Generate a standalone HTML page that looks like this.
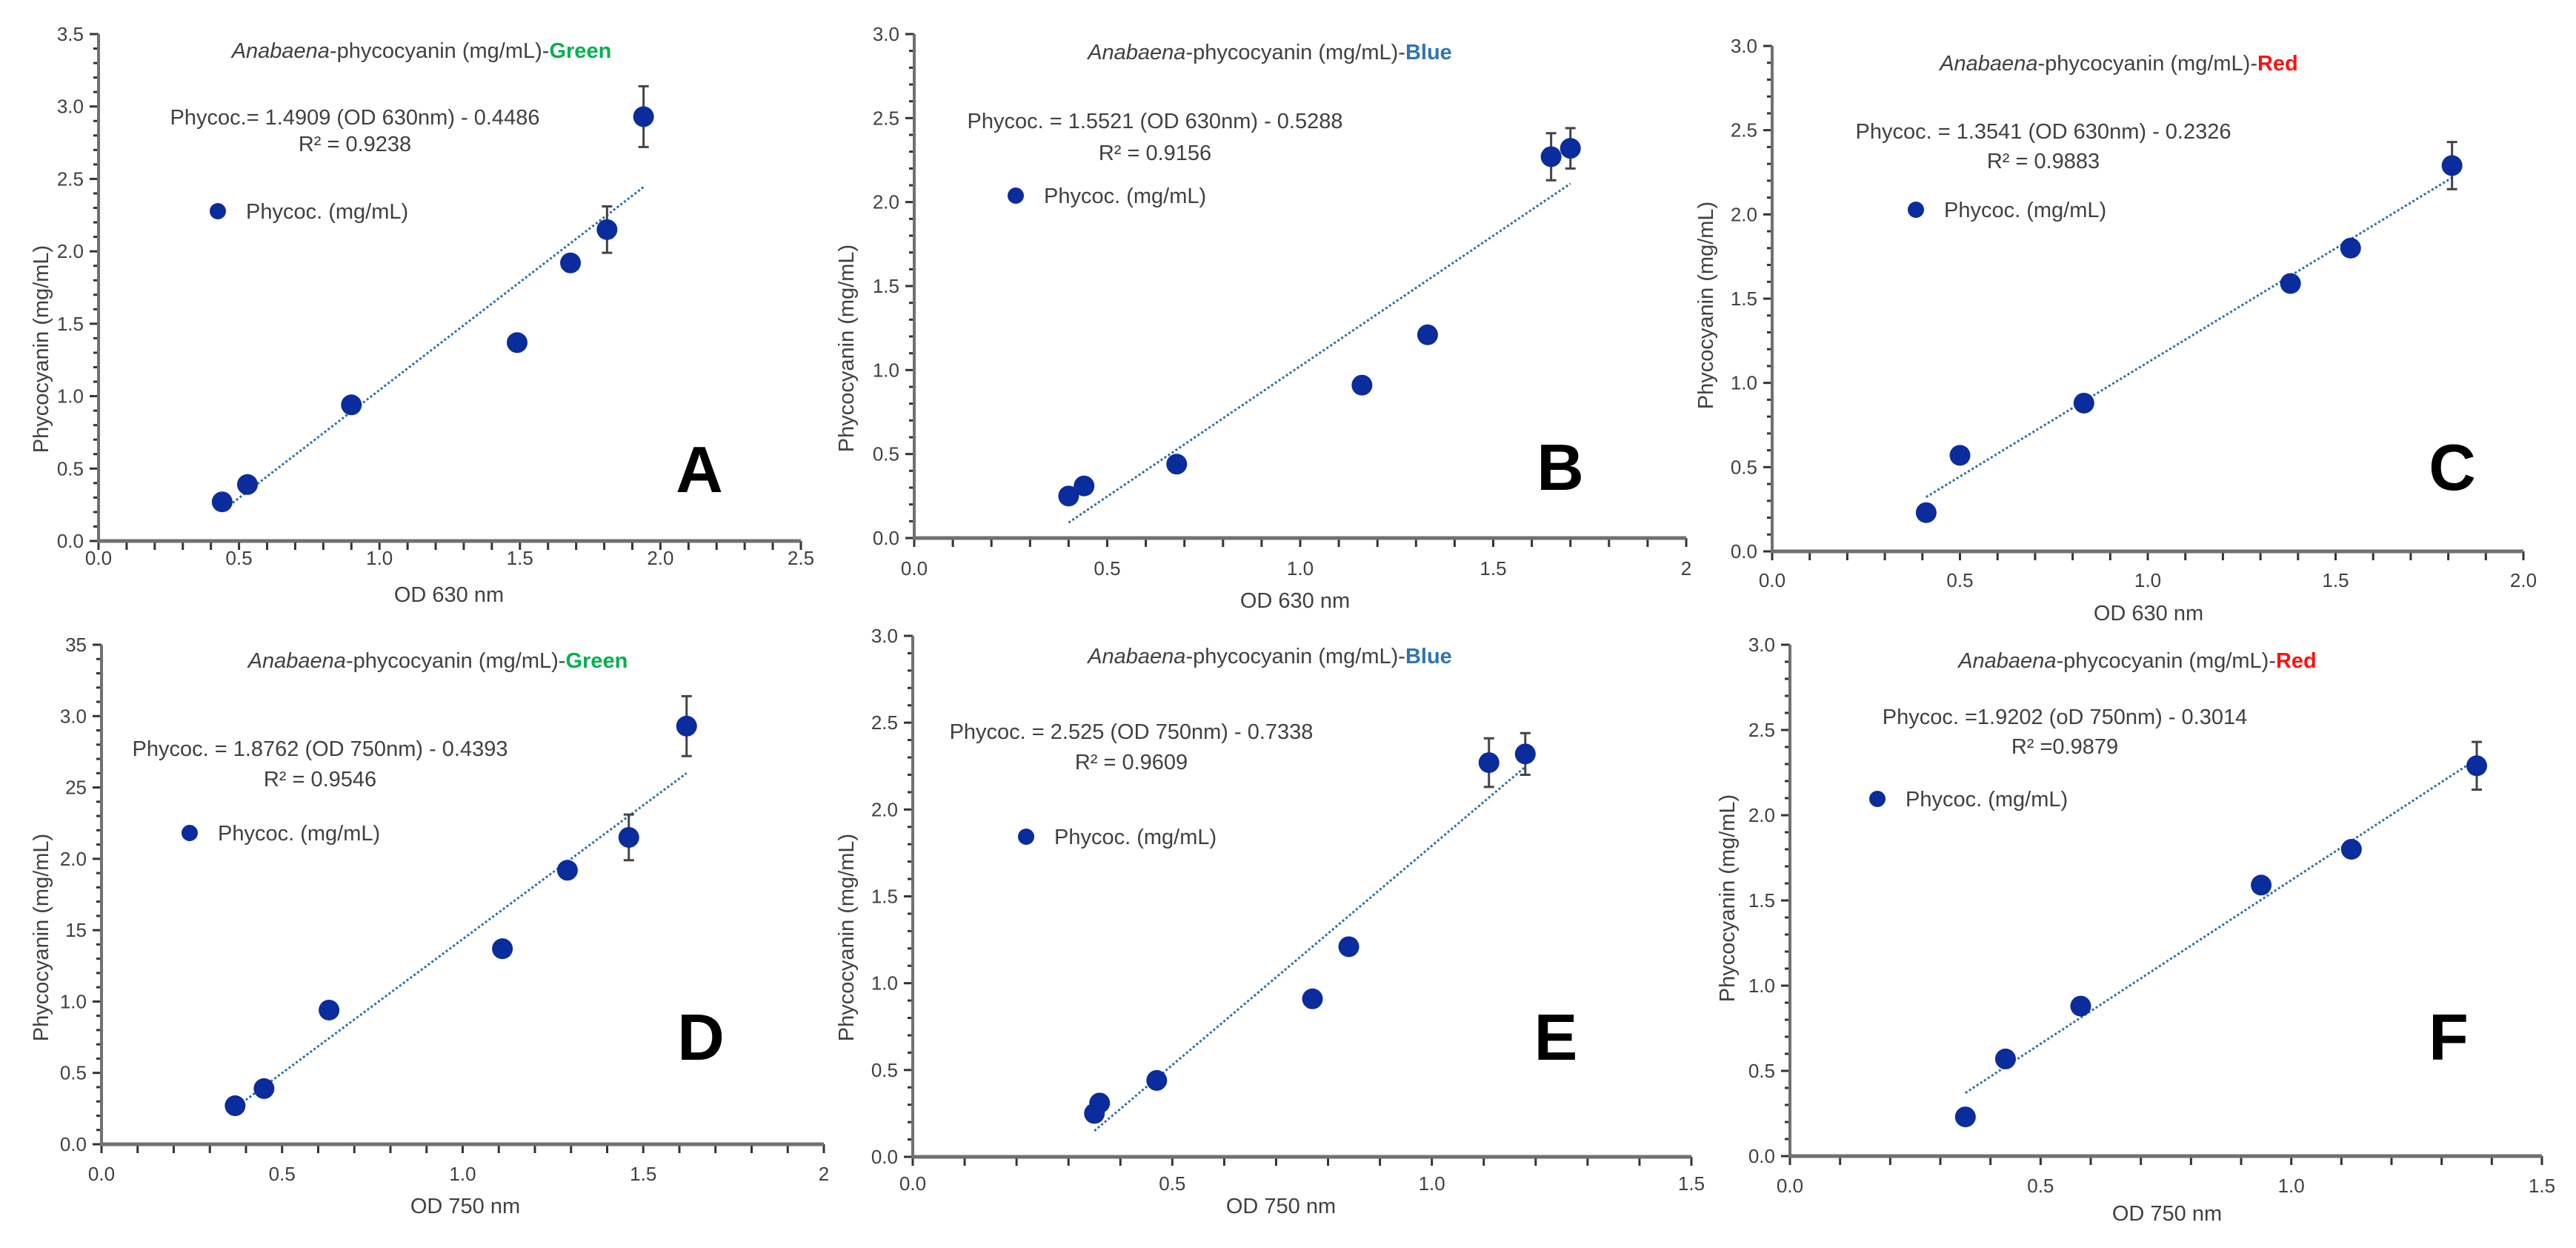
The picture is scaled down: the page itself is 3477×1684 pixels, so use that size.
<!DOCTYPE html>
<html><head><meta charset="utf-8"><style>
html,body{margin:0;padding:0;background:#fff;}
svg{display:block;}
text{font-family:"Liberation Sans",sans-serif;fill:#404040;}
</style></head><body>
<svg id="fig" width="3477" height="1684" viewBox="0 0 3477 1684" xmlns="http://www.w3.org/2000/svg"></svg>
<script>
// ---- data ----
const aX=[0.44,0.53,0.90,1.49,1.68,1.81,1.94];
const aY=[0.27,0.39,0.94,1.37,1.92,2.15,2.93];
const aErr=[0,0,0,0,0,0.16,0.21];
const bX=[0.40,0.44,0.68,1.16,1.33,1.65,1.70];
const bY=[0.25,0.31,0.44,0.91,1.21,2.27,2.32];
const bErr=[0,0,0,0,0,0.14,0.12];
const cX=[0.41,0.50,0.83,1.38,1.54,1.81];
const cY=[0.23,0.57,0.88,1.59,1.80,2.29];
const cErr=[0,0,0,0,0,0.14];
const dX=[0.37,0.45,0.63,1.11,1.29,1.46,1.62];
const dY=[0.27,0.39,0.94,1.37,1.92,2.15,2.93];
const dErr=[0,0,0,0,0,0.16,0.21];
const eX=[0.35,0.36,0.47,0.77,0.84,1.11,1.18];
const eY=[0.25,0.31,0.44,0.91,1.21,2.27,2.32];
const eErr=[0,0,0,0,0,0.14,0.12];
const fX=[0.35,0.43,0.58,0.94,1.12,1.37];
const fY=[0.23,0.57,0.88,1.59,1.80,2.29];
const fErr=[0,0,0,0,0,0.14];
const slopes=[1.4909,1.5521,1.3541,1.8762,2.525,1.9202];
const intercepts=[-0.4486,-0.5288,-0.2326,-0.4393,-0.7338,-0.3014];
const equations=["Phycoc.= 1.4909 (OD 630nm) - 0.4486","Phycoc. = 1.5521 (OD 630nm) - 0.5288","Phycoc. = 1.3541 (OD 630nm) - 0.2326","Phycoc. = 1.8762 (OD 750nm) - 0.4393","Phycoc. = 2.525 (OD 750nm) - 0.7338","Phycoc. =1.9202 (oD 750nm) - 0.3014"];
const r2Labels=["R² = 0.9238","R² = 0.9156","R² = 0.9883","R² = 0.9546","R² = 0.9609","R² =0.9879"];
const colorWords=["Green","Blue","Red","Green","Blue","Red"];
const xTitles=["OD 630 nm","OD 630 nm","OD 630 nm","OD 750 nm","OD 750 nm","OD 750 nm"];
const yTicks35=["0.0","0.5","1.0","1.5","2.0","2.5","3.0","3.5"];
const yTicks35D=["0.0","0.5","1.0","15","2.0","25","3.0","35"];
const yTicks30=["0.0","0.5","1.0","1.5","2.0","2.5","3.0"];
const xTicksA=["0.0","0.5","1.0","1.5","2.0","2.5"];
const xTicksB=["0.0","0.5","1.0","1.5","2"];
const xTicksC=["0.0","0.5","1.0","1.5","2.0"];
const xTicksD=["0.0","0.5","1.0","1.5","2"];
const xTicks15=["0.0","0.5","1.0","1.5"];
const letters=["A","B","C","D","E","F"];

// ---- layout (pixels) ----
const panels=[
 {id:"a",xs:aX,ys:aY,er:aErr,x0:133,x1:1081,y0:730,y1:46,xmax:2.5,ymax:3.5,xt:xTicksA,yt:yTicks35,ti:[569,68],eq:[479,158,194],lg:[294,285],let:[944,664],tly:753,xl:[606,802],yl:[55,471]},
 {id:"b",xs:bX,ys:bY,er:bErr,x0:1234,x1:2276,y0:726,y1:46,xmax:2,ymax:3,xt:xTicksB,yt:yTicks30,ti:[1714,70],eq:[1559,163,206],lg:[1371,264],let:[2106,661],tly:767,xl:[1748,810],yl:[1142,470]},
 {id:"c",xs:cX,ys:cY,er:cErr,x0:2392,x1:3406,y0:744,y1:62,xmax:2,ymax:3,xt:xTicksC,yt:yTicks30,ti:[2860,85],eq:[2758,177,217],lg:[2586,283],let:[3310,661],tly:783,xl:[2900,827],yl:[2302,412]},
 {id:"d",xs:dX,ys:dY,er:dErr,x0:137,x1:1112,y0:1544,y1:870,xmax:2,ymax:3.5,xt:xTicksD,yt:yTicks35D,ti:[591,891],eq:[432,1010,1051],lg:[256,1124],let:[946,1430],tly:1584,xl:[628,1627],yl:[55,1265]},
 {id:"e",xs:eX,ys:eY,er:eErr,x0:1232,x1:2283,y0:1561,y1:858,xmax:1.5,ymax:3,xt:xTicks15,yt:yTicks30,ti:[1714,885],eq:[1527,987,1028],lg:[1385,1129],let:[2100,1430],tly:1597,xl:[1729,1627],yl:[1142,1265]},
 {id:"f",xs:fX,ys:fY,er:fErr,x0:2416,x1:3431,y0:1560,y1:870,xmax:1.5,ymax:3,xt:xTicks15,yt:yTicks30,ti:[2885,891],eq:[2787,967,1007],lg:[2534,1078],let:[3305,1430],tly:1600,xl:[2925,1637],yl:[2331,1212]}
];
const wordColor={Green:"#00b050",Blue:"#2e75b6",Red:"#ff1010"};
const NS="http://www.w3.org/2000/svg";
const svg=document.getElementById('fig');
function mk(tag,attrs,parent,txt){const e=document.createElementNS(NS,tag);for(const k in attrs)e.setAttribute(k,attrs[k]);if(txt!==undefined)e.textContent=txt;(parent||svg).appendChild(e);return e;}

panels.forEach((p,i)=>{
  const g=mk('g',{});
  
  
  const sx=v=>p.x0+(v/p.xmax)*(p.x1-p.x0);
  const sy=v=>p.y0-(v/p.ymax)*(p.y0-p.y1);
  const ny=Math.round(p.ymax*10);
  for(let k=0;k<=ny;k++){const y=sy(k/10);const major=k%5===0;
    mk('line',{x1:p.x0-(major?12:7),x2:p.x0,y1:y,y2:y,stroke:'#333','stroke-width':3},g);}
  const nx=Math.round(p.xmax*10);
  for(let k=0;k<=nx;k++){const x=sx(k/10);
    mk('line',{x1:x,x2:x,y1:p.y0,y2:p.y0+12,stroke:'#333','stroke-width':3},g);}
  const ya=mk('line',{x1:p.x0,x2:p.x0,y1:p.y1,y2:p.y0,stroke:'#707070','stroke-width':4},g);
  
  
  const xa=mk('line',{x1:p.x0-2,x2:p.x1,y1:p.y0,y2:p.y0,stroke:'#707070','stroke-width':5},g);
  
  
  p.yt.forEach((lab,k)=>{const t=mk('text',{x:p.x0-20,y:sy(k*0.5)+9,'text-anchor':'end','font-size':26},g,lab);
    
    });
  p.xt.forEach((lab,k)=>{const t=mk('text',{x:sx(k*0.5),y:p.tly+9,'text-anchor':'middle','font-size':26},g,lab);
    
    });
  const xt=mk('text',{x:p.xl[0],y:p.xl[1]+10,'text-anchor':'middle','font-size':29},g,xTitles[i]);
  
  
  const yt=mk('text',{x:0,y:0,'text-anchor':'middle','font-size':29,transform:`translate(${p.yl[0]+10},${p.yl[1]}) rotate(-90)`},g,'Phycocyanin  (mg/mL)');
  
  
  const ti=mk('text',{x:p.ti[0],y:p.ti[1]+10,'text-anchor':'middle','font-size':29},g);
  
  
  mk('tspan',{'font-style':'italic'},ti,'Anabaena');
  mk('tspan',{},ti,'-phycocyanin (mg/mL)-');
  mk('tspan',{'font-weight':'bold',style:'fill:'+wordColor[colorWords[i]]},ti,colorWords[i]);
  const eq=mk('text',{x:p.eq[0],y:p.eq[1]+10,'text-anchor':'middle','font-size':29},g,equations[i]);
  
  
  const r2=mk('text',{x:p.eq[0],y:p.eq[2]+10,'text-anchor':'middle','font-size':29},g,r2Labels[i]);
  
  
  const lg=mk('g',{},g);
  
  
  mk('circle',{cx:p.lg[0],cy:p.lg[1],r:11,fill:'#0a2c9c'},lg);
  mk('text',{x:p.lg[0]+38,y:p.lg[1]+10,'font-size':29},lg,'Phycoc. (mg/mL)');
  const xs=p.xs;const xmin=Math.min(...xs),xmax=Math.max(...xs);
  const tl=mk('line',{x1:sx(xmin),y1:sy(slopes[i]*xmin+intercepts[i]),x2:sx(xmax),y2:sy(slopes[i]*xmax+intercepts[i]),stroke:'#2e6ea6','stroke-width':3,'stroke-dasharray':'3 3'},g);
  
  
  xs.forEach((x,k)=>{
    const y=p.ys[k],e=p.er[k];
    if(e>0){
      const eb=mk('path',{d:`M${sx(x)},${sy(y+e)}V${sy(y-e)}M${sx(x)-7},${sy(y+e)}h14M${sx(x)-7},${sy(y-e)}h14`,stroke:'#444','stroke-width':3,fill:'none'},g);
      
      
    }
    const c=mk('circle',{cx:sx(x),cy:sy(y),r:14,fill:'#0a2c9c'},g);
    
    
  });
  const L=mk('text',{x:p.let[0],y:p.let[1],'text-anchor':'middle','font-size':88,'font-weight':'bold',style:'fill:#000'},g,letters[i]);
  
  
});
</script>
</body></html>
